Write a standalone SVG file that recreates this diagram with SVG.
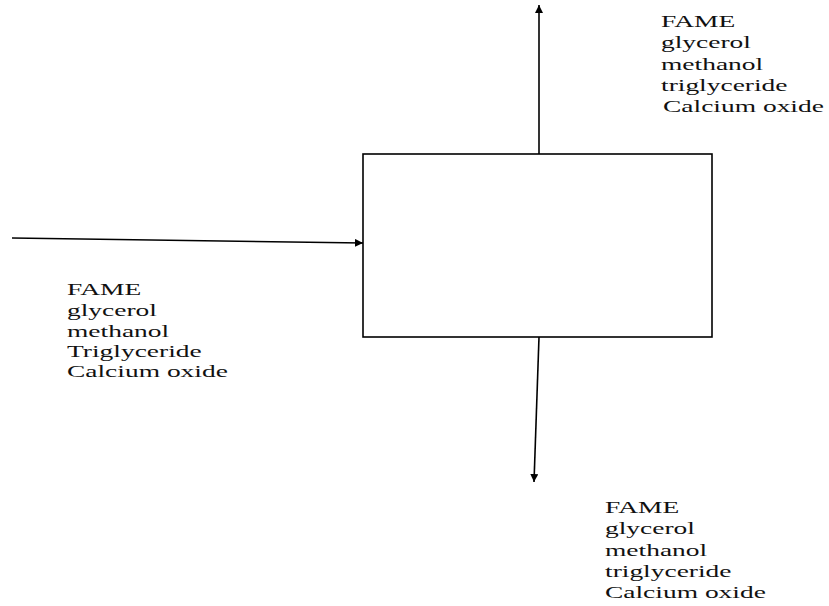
<svg xmlns="http://www.w3.org/2000/svg" width="829" height="606" viewBox="0 0 829 606">
<style>
.t{font-family:"Liberation Serif","Times New Roman",serif;font-size:17.5px;fill:#111}
.c{stroke:#000;stroke-width:1.6;fill:none}
</style>
<defs>
<marker id="ah" viewBox="0 0 10 10" refX="10" refY="5" markerWidth="8" markerHeight="8" markerUnits="userSpaceOnUse" orient="auto">
<path d="M0,0 L10,5 L0,10 z" fill="#000"/>
</marker>
</defs>
<rect width="829" height="606" fill="#fff"/>
<g id="reactor">
<rect x="363" y="154" width="349" height="183" fill="#fff" stroke="#000" stroke-width="1.6"/>
</g>
<g id="connectors">
<line class="c" x1="12" y1="238" x2="363" y2="243" marker-end="url(#ah)"/>
<line class="c" x1="539" y1="154" x2="539" y2="5" marker-end="url(#ah)"/>
<line class="c" x1="539" y1="337" x2="534" y2="482" marker-end="url(#ah)"/>
</g>
<g id="top-stream" transform="translate(661,0) scale(1.57,1)">
<text class="t" x="0" y="27">FAME</text>
<text class="t" x="0" y="48">glycerol</text>
<text class="t" x="0" y="70">methanol</text>
<text class="t" x="0" y="91">triglyceride</text>
<text class="t" x="1.3" y="112">Calcium oxide</text>
</g>
<g id="feed-stream" transform="translate(67,0) scale(1.57,1)">
<text class="t" x="0" y="295">FAME</text>
<text class="t" x="0" y="316">glycerol</text>
<text class="t" x="0" y="337">methanol</text>
<text class="t" x="0" y="357">Triglyceride</text>
<text class="t" x="0" y="377">Calcium oxide</text>
</g>
<g id="bottom-stream" transform="translate(605,0) scale(1.57,1)">
<text class="t" x="0" y="513">FAME</text>
<text class="t" x="0" y="534">glycerol</text>
<text class="t" x="0" y="556">methanol</text>
<text class="t" x="0" y="577">triglyceride</text>
<text class="t" x="0" y="598">Calcium oxide</text>
</g>
</svg>
